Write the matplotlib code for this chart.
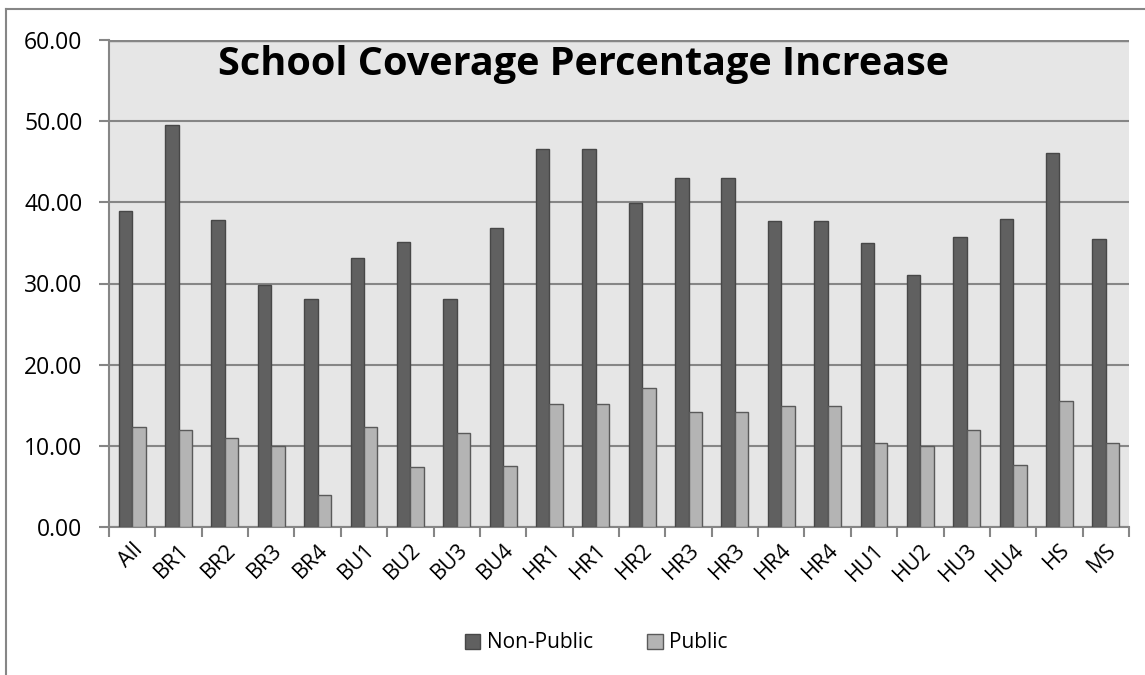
import numpy as np
import matplotlib
matplotlib.use('Agg')
import matplotlib.pyplot as plt
from matplotlib.lines import Line2D
from matplotlib.patches import Patch

plt.rcParams['font.family'] = ['Open Sans', 'DejaVu Sans']

# school groups along the x axis
schools = ['All', 'BR1', 'BR2', 'BR3', 'BR4', 'BU1', 'BU2', 'BU3', 'BU4',
           'HR1', 'HR1', 'HR2', 'HR3', 'HR3', 'HR4', 'HR4',
           'HU1', 'HU2', 'HU3', 'HU4', 'HS', 'MS']
# coverage increase (%)
non_public = [38.9, 49.5, 37.8, 29.8, 28.1, 33.2, 35.1, 28.1, 36.8,
              46.6, 46.6, 39.9, 43.0, 43.0, 37.7, 37.7,
              35.0, 31.0, 35.7, 38.0, 46.1, 35.5]
public = [12.3, 11.9, 11.0, 10.0, 4.0, 12.3, 7.4, 11.6, 7.5,
          15.2, 15.2, 17.1, 14.2, 14.2, 14.9, 14.9,
          10.4, 10.0, 12.0, 7.6, 15.5, 10.3]
y_ticks = [0, 10, 20, 30, 40, 50, 60]

grid_col = '#868686'
np_col = '#606060'
pub_col = '#b4b4b4'

fig = plt.figure(figsize=(11.45, 6.75), dpi=100)
ax = fig.add_axes([109 / 1145, 1 - 527 / 675, 1020 / 1145, 487 / 675])
ax.set_facecolor('#e6e6e6')

x = np.arange(len(schools))
w = 0.29
ax.bar(x - w / 2, non_public, w, color=np_col, edgecolor='#474747', linewidth=1.0, zorder=3)
ax.bar(x + w / 2, public, w, color=pub_col, edgecolor='#5a5a5a', linewidth=1.0, zorder=3)

ax.set_xlim(-0.5, len(schools) - 0.5)
ax.set_ylim(0, 60)
ax.set_yticks(y_ticks)
ax.set_yticklabels(['%.2f' % v for v in y_ticks])
ax.yaxis.grid(True, color=grid_col, linewidth=1.5, zorder=1)
ax.set_axisbelow(True)

# category ticks sit on the boundaries, labels at the centres
ax.set_xticks(np.arange(len(schools) + 1) - 0.5)
ax.set_xticklabels([])
ax.set_xticks(x, minor=True)
ax.set_xticklabels(schools, minor=True, rotation=45, ha='right',
                   rotation_mode='anchor', fontsize=15.5)
ax.tick_params(axis='x', which='minor', length=0, pad=9)
ax.tick_params(axis='x', which='major', length=7, width=1.5, color=grid_col)
ax.tick_params(axis='y', length=7, width=1.5, color=grid_col, labelsize=16.5, pad=12)

for side in ['top', 'right']:
    ax.spines[side].set_visible(False)
for side in ['left', 'bottom']:
    ax.spines[side].set_color(grid_col)
    ax.spines[side].set_linewidth(1.5)

# the 60 line is the top edge of the plot area
ax.axhline(60, color=grid_col, linewidth=2.5, zorder=2)

ax.text(0.465, 0.99, 'School Coverage Percentage Increase', transform=ax.transAxes,
        ha='center', va='top', fontsize=28.5, fontweight='bold', zorder=5)

handles = [Patch(facecolor=np_col, edgecolor='#474747', label='Non-Public'),
           Patch(facecolor=pub_col, edgecolor='#5a5a5a', label='Public')]
fig.legend(handles=handles, loc='center', bbox_to_anchor=(596 / 1145, 1 - 643 / 675),
           ncol=2, frameon=False, fontsize=15, handlelength=0.75, handleheight=0.75,
           handletextpad=0.3, columnspacing=2.6)

# chart border
fig.add_artist(Line2D([6 / 1145, 6 / 1145], [0, 1 - 9 / 675], transform=fig.transFigure,
                      color=grid_col, linewidth=1.5))
fig.add_artist(Line2D([6 / 1145, 1], [1 - 9 / 675, 1 - 9 / 675], transform=fig.transFigure,
                      color=grid_col, linewidth=1.5))

fig.savefig('out.png', dpi=100)
